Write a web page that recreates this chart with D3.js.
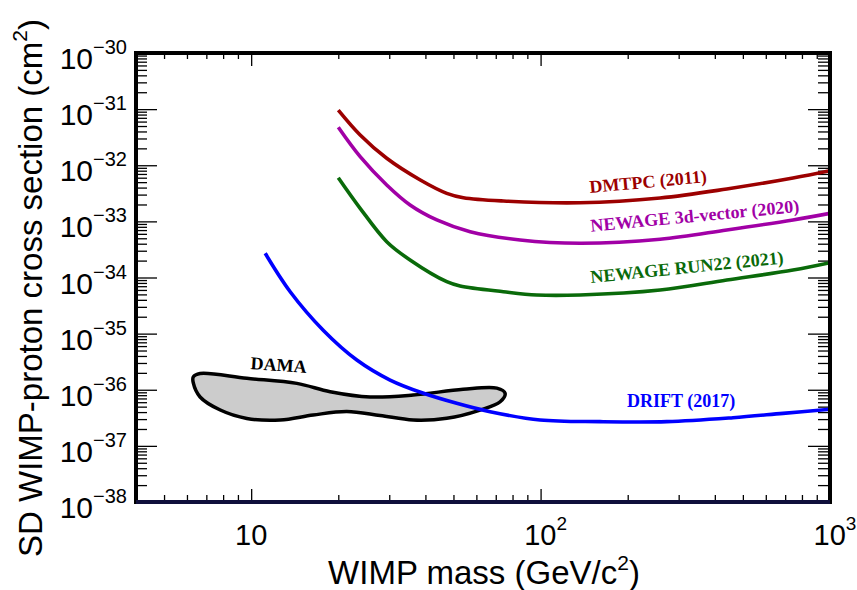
<!DOCTYPE html>
<html><head><meta charset="utf-8">
<script src="https://cdn.jsdelivr.net/npm/d3@7"></script>
<style>body{margin:0;background:#fff}</style>
</head><body>
<svg id="chart" width="857" height="590"></svg>
<script>
// ---------- data ----------
const yTickExponents = [-30, -31, -32, -33, -34, -35, -36, -37, -38];
const xTickValues = [10, 100, 1000];
const xTickBases = ["10", "10", "10"];
const xTickExponents = ["", "2", "3"];

const massDMTPC  = [20.0, 23.8, 29.4, 38.4, 47.4, 54.1, 74.4, 136.9, 258.8, 439.8, 745, 1000];
const sigmaDMTPC = [9.6e-32, 3.46e-32, 1.33e-32, 5.46e-33, 3.16e-33, 2.64e-33, 2.31e-33, 2.15e-33, 2.61e-33, 3.78e-33, 5.93e-33, 8.0e-33];

const massNEWAGE3d  = [20.0, 23.8, 29.4, 35.4, 43.8, 57.1, 85.0, 136.9, 258.8, 439.8, 745, 1000];
const sigmaNEWAGE3d = [4.74e-32, 1.42e-32, 4.45e-33, 1.96e-33, 1.06e-33, 6.55e-34, 4.66e-34, 4.07e-34, 4.80e-34, 7.02e-34, 1.06e-33, 1.39e-33];

const massRUN22  = [20.0, 23.8, 29.4, 35.4, 47.4, 52.7, 74.4, 97.0, 136.9, 258.8, 439.8, 745, 1000];
const sigmaRUN22 = [6.0e-33, 1.71e-33, 4.35e-34, 2.05e-34, 8.41e-35, 7.06e-35, 5.58e-35, 4.88e-35, 4.88e-35, 5.98e-35, 9.02e-35, 1.36e-34, 1.84e-34];

const massDRIFT  = [11.18, 13.64, 17.77, 23.18, 30.2, 39.4, 51.3, 66.9, 99.6, 160.5, 272.9, 462.3, 688, 1000];
const sigmaDRIFT = [2.70e-34, 5.58e-35, 1.14e-35, 3.39e-36, 1.49e-36, 8.65e-37, 5.74e-37, 4.07e-37, 2.89e-37, 2.70e-37, 2.70e-37, 3.18e-37, 3.80e-37, 4.49e-37];

const massDAMA  = [6.31, 6.66, 9.66, 14.38, 18.75, 25.77, 36.27, 54.0, 70.6, 75.4, 72.5, 61.8, 47.4, 36.3, 27.9, 21.4, 16.38, 12.60, 9.66, 7.82, 6.66, 6.31];
const sigmaDAMA = [1.69e-36, 1.95e-36, 1.60e-36, 1.30e-36, 9.23e-37, 7.43e-37, 8.05e-37, 1.02e-36, 1.07e-36, 8.65e-37, 6.12e-37, 4.35e-37, 3.10e-37, 2.89e-37, 3.48e-37, 4.10e-37, 3.55e-37, 2.89e-37, 3.08e-37, 4.35e-37, 7.43e-37, 1.32e-36];

const seriesNames  = ["DMTPC (2011)", "NEWAGE 3d-vector (2020)", "NEWAGE RUN22 (2021)", "DRIFT (2017)"];
const seriesColors = ["#9c0000", "#a100a6", "#0a6a0a", "#0000ff"];
const damaLabel = "DAMA";
const xTitle = "WIMP mass (GeV/c";
const yTitle = "SD WIMP-proton cross section (cm";

// ---------- layout ----------
const svg = d3.select("#chart");
const L = 136, R = 830, T = 53, B = 502;
const x = d3.scaleLog().domain([4, 1000]).range([L, R]);
const y = d3.scaleLog().domain([1e-38, 1e-30]).range([B, T]);

svg.append("defs").append("clipPath").attr("id", "plotclip")
  .append("rect").attr("x", L).attr("y", T).attr("width", R - L).attr("height", B - T);

// ---------- minor ticks ----------
const xMinor = [];
[1, 10, 100].forEach(d => { for (let k = 2; k <= 9; k++) { const v = k * d; if (v > 4 && v < 1000 && v !== 10 && v !== 100) xMinor.push(v); } });
const yMinor = [];
for (let e = -38; e < -30; e++) for (let k = 2; k <= 9; k++) yMinor.push(k * Math.pow(10, e));
const yMajor = yTickExponents.map(e => Math.pow(10, e));

function axisDraw(axis, tr) {
  const g = svg.append("g").attr("transform", tr).call(axis);
  g.select(".domain").remove();
  g.selectAll("line").attr("stroke", "#000").attr("stroke-width", 1.3);
  g.selectAll("text").remove();
  return g;
}
axisDraw(d3.axisLeft(y).tickValues(yMajor).tickSize(-21).tickFormat(""), `translate(${L},0)`);
axisDraw(d3.axisLeft(y).tickValues(yMinor).tickSize(-11).tickFormat(""), `translate(${L},0)`);
axisDraw(d3.axisRight(y).tickValues(yMajor).tickSize(-22).tickFormat(""), `translate(${R},0)`);
axisDraw(d3.axisRight(y).tickValues(yMinor).tickSize(-12).tickFormat(""), `translate(${R},0)`);
axisDraw(d3.axisBottom(x).tickValues(xTickValues).tickSize(-13).tickFormat(""), `translate(0,${B})`);
axisDraw(d3.axisBottom(x).tickValues(xMinor).tickSize(-7).tickFormat(""), `translate(0,${B})`);
axisDraw(d3.axisTop(x).tickValues(xTickValues).tickSize(-13).tickFormat(""), `translate(0,${T})`);
axisDraw(d3.axisTop(x).tickValues(xMinor).tickSize(-6).tickFormat(""), `translate(0,${T})`);

// ---------- curves ----------
const plot = svg.append("g").attr("clip-path", "url(#plotclip)");

const dama = massDAMA.map((m, i) => [m, sigmaDAMA[i]]);
plot.append("path").datum(dama)
  .attr("d", d3.line().x(d => x(d[0])).y(d => y(d[1])).curve(d3.curveCatmullRomClosed.alpha(0.5)))
  .attr("fill", "#cccccc").attr("stroke", "#000").attr("stroke-width", 3.5).attr("stroke-linejoin", "round");

const allSeries = [
  massDMTPC.map((m, i) => [m, sigmaDMTPC[i]]),
  massNEWAGE3d.map((m, i) => [m, sigmaNEWAGE3d[i]]),
  massRUN22.map((m, i) => [m, sigmaRUN22[i]]),
  massDRIFT.map((m, i) => [m, sigmaDRIFT[i]])
];
const lineGen = d3.line().x(d => x(d[0])).y(d => y(d[1])).curve(d3.curveCatmullRom.alpha(0.5));
allSeries.forEach((s, i) => {
  plot.append("path").datum(s).attr("d", lineGen)
    .attr("fill", "none").attr("stroke", seriesColors[i]).attr("stroke-width", 3.6);
});

// ---------- curve labels ----------
const labelAnchors = [[148.3, 3.2e-33, -5.3], [149.4, 6.55e-34, -5.4], [149.4, 7.98e-35, -5.8], [199, 4.99e-37, 0]];
labelAnchors.forEach((a, i) => {
  svg.append("text")
    .attr("transform", `translate(${x(a[0])},${y(a[1])}) rotate(${a[2]})`)
    .attr("font-family", "'Liberation Serif','Times New Roman',serif")
    .attr("font-weight", "bold").attr("font-size", 18)
    .attr("fill", seriesColors[i]).text(seriesNames[i]);
});
svg.append("text")
  .attr("transform", `translate(${x(12.4)},${y(2.16e-36)}) rotate(4)`)
  .attr("text-anchor", "middle")
  .attr("font-family", "'Liberation Serif','Times New Roman',serif")
  .attr("font-weight", "bold").attr("font-size", 18).attr("fill", "#000").text(damaLabel);

// ---------- frame ----------
svg.append("rect").attr("x", L).attr("y", T).attr("width", R - L).attr("height", B - T)
  .attr("fill", "none").attr("stroke", "#000").attr("stroke-width", 4);
svg.append("line").attr("x1", L).attr("x2", R).attr("y1", B).attr("y2", B)
  .attr("stroke", "#10103c").attr("stroke-width", 4);

// ---------- tick labels ----------
const sans = "'Liberation Sans',Arial,Helvetica,sans-serif";
yTickExponents.forEach(e => {
  const t = svg.append("text").attr("x", 127).attr("y", y(Math.pow(10, e)) + 16)
    .attr("text-anchor", "end").attr("font-family", sans).attr("font-size", 30).attr("fill", "#000");
  t.append("tspan").text("10");
  t.append("tspan").attr("font-size", 20).attr("dy", -15).text("\u2212" + Math.abs(e));
});
xTickValues.forEach((v, i) => {
  const t = svg.append("text").attr("x", x(v) + (xTickExponents[i] ? 5 : 0)).attr("y", 545)
    .attr("text-anchor", "middle").attr("font-family", sans).attr("font-size", 29).attr("fill", "#000");
  t.append("tspan").text(xTickBases[i]);
  if (xTickExponents[i]) t.append("tspan").attr("font-size", 19).attr("dy", -15).text(xTickExponents[i]);
});

// ---------- axis titles ----------
const xt = svg.append("text").attr("x", 484).attr("y", 584)
  .attr("text-anchor", "middle").attr("font-family", sans).attr("font-size", 33).attr("fill", "#000");
xt.append("tspan").text(xTitle);
xt.append("tspan").attr("font-size", 21).attr("dy", -14).text("2");
xt.append("tspan").attr("dy", 14).text(")");

const yt = svg.append("text").attr("transform", `translate(42,288) rotate(-90)`)
  .attr("text-anchor", "middle").attr("font-family", sans).attr("font-size", 33).attr("fill", "#000");
yt.append("tspan").text(yTitle);
yt.append("tspan").attr("font-size", 21).attr("dy", -15).text("2");
yt.append("tspan").attr("dy", 15).text(")");
</script>
</body></html>
